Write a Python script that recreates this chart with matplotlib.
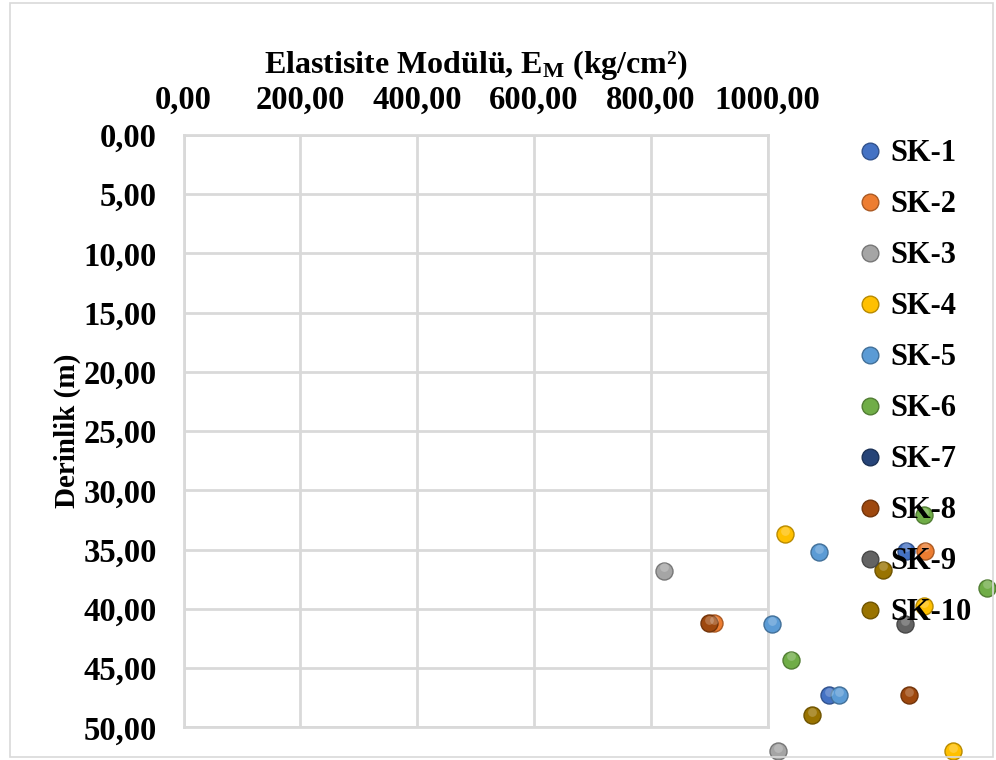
import numpy as np
import matplotlib as mpl
mpl.use('Agg')
import matplotlib.pyplot as plt
import matplotlib.transforms as mtransforms
from matplotlib.colors import to_rgb
from matplotlib.lines import Line2D
from matplotlib.patches import Rectangle
from matplotlib.ticker import FuncFormatter

plt.rcParams['font.family'] = ['Liberation Serif', 'DejaVu Serif']
plt.rcParams['font.weight'] = 'bold'
plt.rcParams['axes.labelweight'] = 'bold'
plt.rcParams['mathtext.fontset'] = 'custom'
plt.rcParams['mathtext.rm'] = 'Liberation Serif:bold'
plt.rcParams['mathtext.bf'] = 'Liberation Serif:bold'
plt.rcParams['mathtext.it'] = 'Liberation Serif:bold'

# --- data (E_M in kg/cm2, depth in m)
names = ['SK-1', 'SK-2', 'SK-3', 'SK-4', 'SK-5', 'SK-6', 'SK-7', 'SK-8', 'SK-9', 'SK-10']
colors = ['#4472C4', '#ED7D31', '#A5A5A5', '#FFC000', '#5B9BD5',
          '#70AD47', '#264478', '#9E480E', '#636363', '#997300']

sk1_E, sk1_d = [1237, 1105], [35.1, 47.3]
sk2_E, sk2_d = [1270, 908], [35.1, 41.2]
sk3_E, sk3_d = [823, 1017], [36.8, 52.0]
sk4_E, sk4_d = [1029, 1267, 1318], [33.7, 39.8, 52.0]
sk5_E, sk5_d = [1088, 1007, 1122], [35.2, 41.3, 47.3]
sk6_E, sk6_d = [1267, 1375, 1040], [32.1, 38.2, 44.3]
sk7_E, sk7_d = [], []
sk8_E, sk8_d = [899, 1242], [41.2, 47.3]
sk9_E, sk9_d = [1235], [41.3]
sk10_E, sk10_d = [1198, 1075], [36.7, 49.0]

E = [sk1_E, sk2_E, sk3_E, sk4_E, sk5_E, sk6_E, sk7_E, sk8_E, sk9_E, sk10_E]
D = [sk1_d, sk2_d, sk3_d, sk4_d, sk5_d, sk6_d, sk7_d, sk8_d, sk9_d, sk10_d]

x_ticks = np.arange(0, 1001, 200)
y_ticks = np.arange(0, 51, 5)


def shade(c, f):
    r, g, b = to_rgb(c)
    return (r*f, g*f, b*f)


W, H = 996, 760
fig = plt.figure(figsize=(W/100, H/100), dpi=100)
ax = fig.add_axes([183.5/W, 1-727.3/H, (767.7-183.5)/W, (727.3-135)/H])

fig.patches.append(Rectangle((10/W, 3/H), 983/W, 754/H, transform=fig.transFigure,
                             fill=False, ec='#D9D9D9', lw=1.2))

# small highlight shifted upward to give the balls a bit of a 3D look
hl = mtransforms.offset_copy(ax.transData, fig=fig, x=0, y=2.5, units='points')

grid_c = '#D9D9D9'
for c, name, x, y in zip(colors, names, E, D):
    ax.scatter(x, y, s=150, color=c, edgecolors=shade(c, 0.72), linewidths=1.0,
               clip_on=False, zorder=3)
    ax.scatter(x, y, s=40, color='white', alpha=0.22, linewidths=0,
               clip_on=False, zorder=4, transform=hl)

ax.set_xlim(0, 1000)
ax.set_ylim(50, 0)
ax.set_xticks(x_ticks)
ax.set_yticks(y_ticks)
fmt = FuncFormatter(lambda v, p: f'{v:.2f}'.replace('.', ','))
ax.xaxis.set_major_formatter(fmt)
ax.yaxis.set_major_formatter(fmt)
ax.xaxis.tick_top()
ax.xaxis.set_label_position('top')
ax.tick_params(length=0, labelsize=23.5)
ax.tick_params(axis='x', pad=14)
ax.tick_params(axis='y', pad=19)
ax.grid(True, color=grid_c, lw=2)
ax.set_axisbelow(True)
for s in ax.spines.values():
    s.set_color(grid_c)
    s.set_linewidth(2)

ax.set_xlabel(r'Elastisite Modülü, E$_{\mathrm{M}}$ (kg/cm²)', fontsize=23, labelpad=8)
ax.set_ylabel('Derinlik (m)', fontsize=21, labelpad=2)

handles = [Line2D([], [], ls='', marker='o', ms=12, mfc=c, mec=shade(c, 0.72), mew=1.0)
           for c in colors]
leg = fig.legend(handles, names, loc='upper left', bbox_to_anchor=(849/W, 1-127/H),
                 frameon=False, fontsize=22, labelspacing=0.72, handlelength=0.6,
                 handletextpad=0.35, borderaxespad=0)
leg.set_zorder(10)

fig.savefig('out.png', dpi=100)
